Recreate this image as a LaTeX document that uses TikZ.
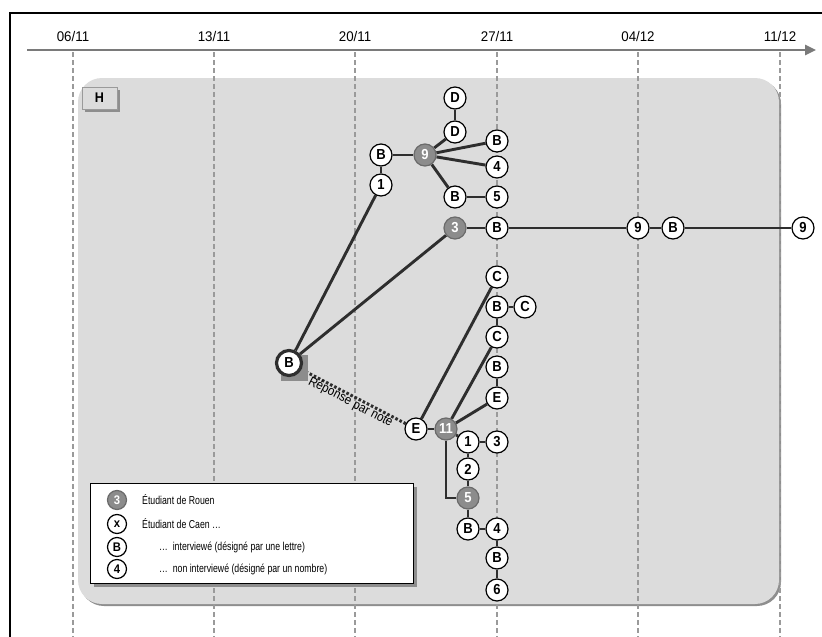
\documentclass[tikz,border=0pt]{standalone}
\usepackage{fontspec}
\setmainfont{Liberation Sans}[FakeStretch=0.9]
\newfontfamily\narrowsans{Liberation Sans}[FakeStretch=0.76]
\newfontfamily\datesans{Liberation Sans}[FakeStretch=0.95]
\usetikzlibrary{arrows.meta}
\pgfdeclarelayer{back}
\pgfdeclarelayer{edges}
\pgfsetlayers{back,edges,main}
\definecolor{panelgray}{HTML}{DCDCDC}
\definecolor{panelrim}{HTML}{8E8E8E}
\definecolor{tickgray}{HTML}{9A9A9A}
\definecolor{axisgray}{HTML}{7A7A7A}
\definecolor{rouenfill}{HTML}{8C8C8C}
\definecolor{rouenline}{HTML}{6A6A6A}
\definecolor{linkcol}{HTML}{2E2E2E}
\begin{document}
\begin{tikzpicture}[x=1pt,y=-1pt,
  person/.style={circle, draw=black, line width=1.2pt, fill=white,
    minimum size=22pt, inner sep=0pt,
    font=\fontsize{14.5}{14.5}\selectfont\bfseries},
  rouen/.style={person, fill=rouenfill, draw=rouenline, text=white},
  lgperson/.style={person, minimum size=19pt, font=\fontsize{12.5}{12.5}\selectfont\bfseries},
  lgrouen/.style={lgperson, fill=rouenfill, draw=rouenline, text=white},
  link/.style={line width=2.9pt, draw=linkcol},
  notelink/.style={line width=3pt, draw=linkcol, dash pattern=on 2.6pt off 2pt},
  datetick/.style={line width=1.5pt, draw=tickgray, dash pattern=on 5pt off 3pt},
  datelbl/.style={font=\datesans\fontsize{14}{14}\selectfont, inner sep=0pt},
  lgtext/.style={anchor=west, inner sep=0pt, font=\narrowsans\fontsize{11.5}{11.5}\selectfont},
]
\useasboundingbox (0,0) rectangle (822,637);

\begin{pgfonlayer}{back}
  % outer frame (top and left)
  \draw[line width=2pt, black] (822,12.5) -- (9.5,12.5) -- (9.5,637);
  % shaded panel with its rim
  \fill[panelrim, rounded corners=24pt] (80,80) rectangle (781,606);
  \fill[panelgray, rounded corners=24pt] (78,78) rectangle (779,604);
  % time axis
  \draw[line width=2.6pt, axisgray, -{Triangle[length=11pt,width=10pt]}] (27,50) -- (816,50);
  % weekly ticks and dates
  \foreach \x/\d in {73/{06/11}, 214/{13/11}, 355/{20/11}, 497/{27/11}, 638/{04/12}, 780/{11/12}}{
    \draw[datetick] (\x,52) -- (\x,637);
    \node[datelbl] at (\x,36) {\d};
  }
  % legend box
  \fill[panelrim] (94,487) rectangle (417,587);
  \draw[fill=white, line width=0.8pt] (90,483) rectangle (413,583);
  % group label
  \fill[panelrim] (85,90) rectangle (120,112);
  \node[draw=tickgray, line width=0.8pt, fill=panelgray, minimum width=35pt,
        minimum height=22pt, inner sep=0pt, font=\fontsize{14}{14}\selectfont\bfseries]
        (grp) at (99.5,98) {H};
\end{pgfonlayer}

% ---- people ----
\node[person] (dA) at (455,98) {D};
\node[person] (dB) at (455,132) {D};
\node[person] (b1) at (381,155) {B};
\node[person] (one) at (381,185) {1};
\node[rouen]  (r9) at (425,155) {9};
\node[person] (b2) at (497,141) {B};
\node[person] (four1) at (497,167) {4};
\node[person] (b3) at (455,197) {B};
\node[person] (five1) at (497,197) {5};
\node[rouen]  (r3) at (455,228) {3};
\node[person] (b4) at (497,228) {B};
\node[person] (nine1) at (638,228) {9};
\node[person] (b5) at (673,228) {B};
\node[person] (nine2) at (803,228) {9};

\fill[rouenfill] (281,355) rectangle (308,381);
\node[person, line width=3.2pt, draw=linkcol, minimum size=25pt] (bigB) at (289,363) {B};

\node[person] (c1) at (497,277) {C};
\node[person] (b6) at (497,307) {B};
\node[person] (c2) at (525,307) {C};
\node[person] (c3) at (497,337) {C};
\node[person] (b7) at (497,367) {B};
\node[person] (e1) at (497,398) {E};
\node[person] (e2) at (416,429) {E};
\node[rouen]  (r11) at (446,429) {11};
\node[person] (one2) at (468,442) {1};
\node[person] (three2) at (497,442) {3};
\node[person] (two) at (468,469) {2};
\node[rouen]  (r5) at (468,498) {5};
\node[person] (b8) at (468,529) {B};
\node[person] (four2) at (497,529) {4};
\node[person] (b9) at (497,558) {B};
\node[person] (six) at (497,590) {6};

% ---- links ----
\begin{pgfonlayer}{edges}
  \draw[link] (bigB) -- (one);
  \draw[link] (bigB) -- (r3);
  \draw[link] (one) -- (b1);
  \draw[link] (b1) -- (r9);
  \draw[link] (r9) -- (dB);
  \draw[link] (dB) -- (dA);
  \draw[link] (r9) -- (b2);
  \draw[link] (r9) -- (four1);
  \draw[link] (r9) -- (b3);
  \draw[link] (b3) -- (five1);
  \draw[link] (r3) -- (b4);
  \draw[link] (b4) -- (nine1);
  \draw[link] (nine1) -- (b5);
  \draw[link] (b5) -- (nine2);
  \draw[notelink] (bigB) -- node[sloped, below, pos=0.5, inner sep=0pt, yshift=1pt,
      font=\fontsize{13}{13}\selectfont] {Réponse par note} (e2);
  \draw[link] (e2) -- (r11);
  \draw[link] (e2) -- (c1);
  \draw[link] (r11) -- (c3);
  \draw[link] (r11) -- (e1);
  \draw[link] (b7) -- (e1);
  \draw[link] (b6) -- (c3);
  \draw[link] (b6) -- (c2);
  \draw[link] (r11) -- (one2);
  \draw[link] (one2) -- (three2);
  \draw[link] (one2) -- (two);
  \draw[link] (two) -- (r5);
  \draw[link] (r11) |- (r5);
  \draw[link] (r5) -- (b8);
  \draw[link] (b8) -- (four2);
  \draw[link] (four2) -- (b9);
  \draw[link] (b9) -- (six);
\end{pgfonlayer}

% ---- legend ----
\node[lgrouen]  (lg3) at (117,500) {3};
\node[lgperson] (lgx) at (117,524) {x};
\node[lgperson] (lgB) at (117,547) {B};
\node[lgperson] (lg4) at (117,569) {4};
\node[lgtext] (lt3) at (142,500) {Étudiant de Rouen};
\node[lgtext] (ltx) at (142,524) {Étudiant de Caen …};
\node[lgtext] (ltB) at (159,547) {…\ \ interviewé (désigné par une lettre)};
\node[lgtext] (lt4) at (159,569) {…\ \ non interviewé (désigné par un nombre)};
\end{tikzpicture}
\end{document}
